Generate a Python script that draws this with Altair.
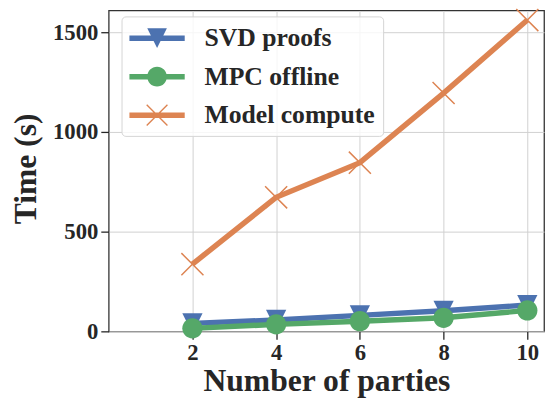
import altair as alt
import pandas as pd

# ---- data ----
parties = [2, 4, 6, 8, 10]
series_names = ["SVD proofs", "MPC offline", "Model compute"]
svd_proofs = [40, 57, 80, 103, 132]
mpc_offline = [15, 35, 51, 68, 105]
model_compute = [337, 672, 846, 1195, 1561]
x_ticks = [2, 4, 6, 8, 10]
y_ticks = [0, 500, 1000, 1500]

colors = ["#4C72B0", "#55A868", "#DD8452"]
FONT = "Liberation Serif"
TEXT = "#262626"

rows = []
for name, vals in zip(series_names, [svd_proofs, mpc_offline, model_compute]):
    for p, v in zip(parties, vals):
        rows.append({"series": name, "parties": p, "time": v})
df = pd.DataFrame(rows)

# marker shapes (unit square -1..1)
marker_paths = [
    "M-1,-1L1,-1L0,1Z",
    "M-1,0A1,1,0,1,1,1,0A1,1,0,1,1,-1,0Z",
    "M-1,-1L1,1M-1,1L1,-1",
]
marker_filled = [True, True, False]

# legend symbols: thick line plus marker (all filled, same winding)
bar = "M-1,-0.2L3,-0.2L3,0.2L-1,0.2Z"
legend_paths = [
    bar + "M0.29,-0.71L1.71,-0.71L1,0.71Z",
    bar + "M0.29,0A0.71,0.71,0,1,1,1.71,0A0.71,0.71,0,1,1,0.29,0Z",
    bar
    + "M0.285,-0.785L1.785,0.715L1.715,0.785L0.215,-0.715Z"
    + "M0.215,0.715L1.715,-0.785L1.785,-0.715L0.285,0.785Z",
]

x_enc = alt.X(
    "parties:Q",
    scale=alt.Scale(domain=[0, 10.4], nice=False, zero=False),
    axis=alt.Axis(
        values=x_ticks, format="d", title="Number of parties",
        titleY=60, titleBaseline="alphabetic",
    ),
)
y_enc = alt.Y(
    "time:Q",
    scale=alt.Scale(domain=[0, 1609], nice=False),
    axis=alt.Axis(
        values=y_ticks, format="d", title="Time (s)",
        titleX=-84, titleY=160, titleBaseline="middle", titleAlign="center", titleAngle=-90,
    ),
)

layers = []
for name, col, mpath, filled in zip(series_names, colors, marker_paths, marker_filled):
    base = alt.Chart(df).transform_filter(alt.datum.series == name)
    line = base.mark_line(strokeWidth=5.5, color=col).encode(x=x_enc, y=y_enc)
    if filled:
        pts = base.mark_point(filled=True, size=420, shape=mpath, opacity=1, color=col).encode(
            x=x_enc, y=y_enc
        )
    else:
        pts = base.mark_point(filled=False, size=500, shape=mpath, strokeWidth=1.5, opacity=1, color=col).encode(
            x=x_enc, y=y_enc
        )
    layers += [line, pts]

legend = alt.Legend(
    title=None, orient="none", legendX=13, legendY=6, padding=8,
    fillColor="rgba(255,255,255,0.8)", strokeColor="#d4d4d4", cornerRadius=4,
    symbolSize=784, symbolOpacity=1, symbolStrokeWidth=0,
    labelOffset=48, rowPadding=12,
    labelFont=FONT, labelFontSize=26, labelFontWeight="bold", labelColor=TEXT,
    labelLimit=400,
)
# legend-only layer: points pushed outside the plot and clipped away
legend_layer = (
    alt.Chart(df)
    .transform_calculate(hidden="-100000")
    .mark_point(filled=True, size=784, clip=True)
    .encode(
        x=alt.X("parties:Q"),
        y=alt.Y("hidden:Q"),
        color=alt.Color("series:N", scale=alt.Scale(domain=series_names, range=colors), legend=legend),
        shape=alt.Shape("series:N", scale=alt.Scale(domain=series_names, range=legend_paths), legend=legend),
    )
)

chart = (
    alt.layer(*layers, legend_layer)
    .properties(
        width=441, height=325,
        autosize=alt.AutoSizeParams(type="none"),
        padding={"left": 102, "top": 0, "right": 5, "bottom": 67},
        background="white",
    )
    .configure_view(stroke="#333333", strokeWidth=1.3)
    .configure_axis(
        domain=False,
        grid=True, gridColor="#d0d0d0", gridWidth=1,
        ticks=True, tickColor=TEXT, tickWidth=1.3, tickSize=8,
        labelFont=FONT, labelFontSize=23, labelFontWeight="bold", labelColor=TEXT,
        labelPadding=3,
        titleFont=FONT, titleFontSize=32, titleFontWeight="bold", titleColor=TEXT,
    )
)

chart.save("out.html", embed_options={"renderer": "svg", "actions": False})
